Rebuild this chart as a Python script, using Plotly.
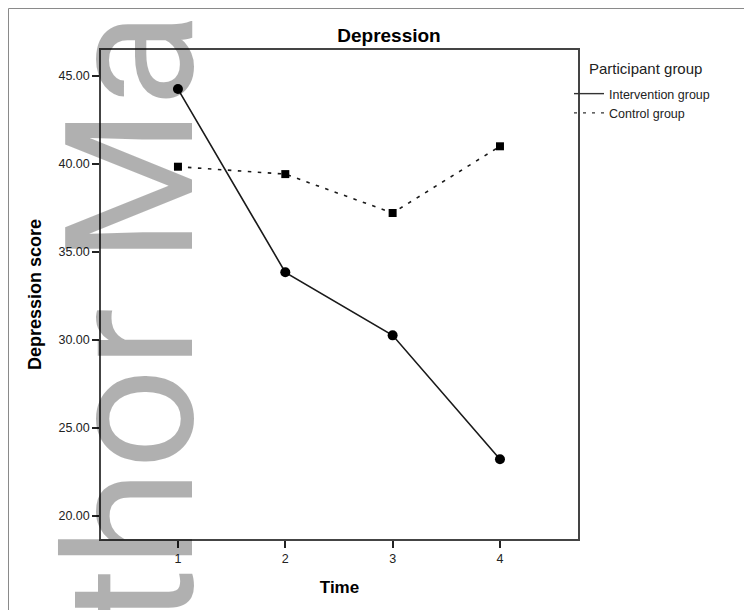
import plotly.graph_objects as go

# ---- data ----
time_points = [1, 2, 3, 4]
intervention_scores = [44.23, 33.82, 30.24, 23.20]
control_scores = [39.82, 39.40, 37.19, 40.98]
y_tick_values = [20, 25, 30, 35, 40, 45]
x_tick_values = [1, 2, 3, 4]
series_names = ["Intervention group", "Control group"]
legend_title = "Participant group"

# page body has an 8px margin, so the figure is drawn 8px in from the window corner
OFF = 8
W, H = 752 - OFF, 610 - OFF
L, R, T, B = 101 - OFF, 174, 50 - OFF, 71
pw, ph = W - L - R, H - T - B


def px_x(sx):
    """screen x pixel -> paper coordinate"""
    return (sx - OFF - L) / pw


def px_y(sy):
    """screen y pixel -> paper coordinate"""
    return (H - B - (sy - OFF)) / ph


FONT = "Liberation Sans, Arial"

fig = go.Figure()

# data traces (not in legend)
fig.add_trace(go.Scatter(
    x=time_points, y=intervention_scores, mode="lines+markers",
    line=dict(color="#1a1a1a", width=1.6),
    marker=dict(symbol="circle", size=10, color="black"),
    showlegend=False, name=series_names[0]))
fig.add_trace(go.Scatter(
    x=time_points, y=control_scores, mode="lines+markers",
    line=dict(color="#1a1a1a", width=1.6, dash="3.5px,6.5px"),
    marker=dict(symbol="square", size=8, color="black"),
    showlegend=False, name=series_names[1]))
# legend entries (lines only)
fig.add_trace(go.Scatter(
    x=[None], y=[None], mode="lines", name=series_names[0],
    line=dict(color="#333333", width=1.4)))
fig.add_trace(go.Scatter(
    x=[None], y=[None], mode="lines", name=series_names[1],
    line=dict(color="#333333", width=1.4, dash="3px,6px")))

axis_common = dict(
    showline=True, mirror=True, linecolor="#444444", linewidth=1.5,
    showgrid=False, zeroline=False, ticks="outside", ticklen=7,
    tickwidth=1.5, tickcolor="#222222",
    tickfont=dict(family=FONT, size=12.5, color="#222222"),
)

fig.update_xaxes(
    range=[0.283, 4.727], tickvals=x_tick_values,
    title=dict(text="<b>Time</b>", font=dict(family=FONT, size=17, color="black"), standoff=16),
    **axis_common)
fig.update_yaxes(
    range=[18.67, 46.45], tickvals=y_tick_values, tickformat=".2f",
    title=dict(text="<b>Depression score</b>", font=dict(family=FONT, size=18, color="black"), standoff=12),
    **axis_common)

fig.update_layout(
    width=W, height=H,
    margin=dict(l=L, r=R, t=T, b=B, autoexpand=False),
    paper_bgcolor="white", plot_bgcolor="white",
    title=dict(text="<b>Depression</b>", x=(389 - OFF) / W, xanchor="center",
               y=1 - (35 - OFF) / H, yanchor="middle",
               font=dict(family=FONT, size=19, color="black")),
    legend=dict(
        x=px_x(569), y=px_y(79), xanchor="left", yanchor="top",
        bgcolor="rgba(0,0,0,0)",
        font=dict(family=FONT, size=12.5, color="#222222"),
        itemwidth=30, tracegroupgap=0,
    ),
    showlegend=True,
)

# legend title
fig.add_annotation(
    text=legend_title, xref="paper", yref="paper",
    x=px_x(587), y=px_y(68), xanchor="left", yanchor="middle",
    showarrow=False, font=dict(family=FONT, size=15, color="#222222"))

# outer frame
fig.add_shape(type="rect", xref="paper", yref="paper",
              x0=px_x(8.5), y0=px_y(640), x1=px_x(780), y1=px_y(8.5),
              line=dict(color="#8a8a8a", width=1), fillcolor="rgba(0,0,0,0)",
              layer="below")

# watermark
fig.add_annotation(
    text="Author Manuscript", xref="paper", yref="paper",
    x=px_x(131), y=px_y(104), xanchor="center", yanchor="middle",
    textangle=-90, showarrow=False,
    font=dict(family="Roboto", size=178, color="rgba(0,0,0,0.31)"))

fig.write_html("out.html")
